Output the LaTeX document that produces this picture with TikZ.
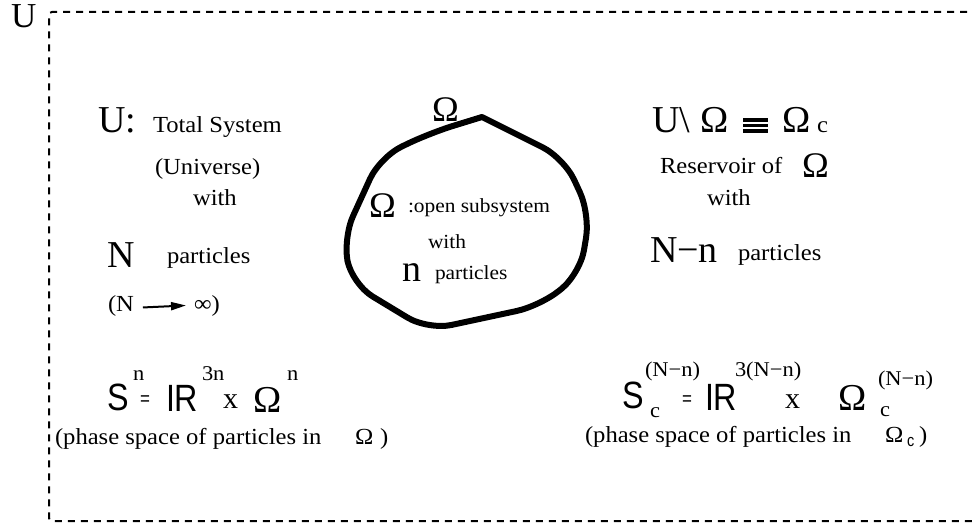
\documentclass[tikz,border=0pt]{standalone}
\usepackage{fontspec}
\usetikzlibrary{arrows.meta}
\newfontfamily\serw[FakeStretch=1.07]{Liberation Serif}
\newfontfamily\serb{Liberation Serif}
\newfontfamily\sanc[FakeStretch=0.85]{Liberation Sans}
\newcommand\ftxt{\serw\fontsize{23}{27}\selectfont}
\newcommand\fsml{\serw\fontsize{20}{23}\selectfont}
\newcommand\fsupx{\serw\fontsize{21}{24}\selectfont}
\newcommand\fbig{\serb\fontsize{38}{44}\selectfont}
\newcommand\fomg{\serb\fontsize{36}{42}\selectfont}
\newcommand\fsans{\sanc\fontsize{38}{44}\selectfont}
\tikzset{
  lbl/.style={inner sep=0pt, outer sep=0pt, anchor=base west},
  txt/.style={lbl, font=\ftxt},
  sml/.style={lbl, font=\fsml},
  supx/.style={lbl, font=\fsupx},
  bigl/.style={lbl, font=\fbig},
  omg/.style={lbl, font=\fomg},
  sans/.style={lbl, font=\fsans},
  eqs/.style={lbl, font=\sanc\fontsize{20}{24}\selectfont},
  times/.style={lbl, font=\serb\fontsize{30}{34}\selectfont},
  frame/.style={line width=2pt, dash pattern=on 7pt off 6pt},
  blob/.style={line width=6pt, line join=round},
  arr/.style={line width=2pt, -{Triangle[length=15pt,width=8pt]}, shorten >=0pt}
}
\begin{document}
\begin{tikzpicture}[x=1pt,y=-1pt]
\useasboundingbox (0,0) rectangle (972,529);
% universe frame
\draw[frame, rounded corners=3pt] (980,12) -- (49,12) -- (49,521) -- (980,521);
\node[bigl, font=\serb\fontsize{35}{40}\selectfont] (utop) at (11,28) {U};

% left column
\node[bigl] (ucol) at (98,133) {U:};
\node[txt] (total) at (153,133) {Total System};
\node[txt] (univ) at (155,175) {(Universe)};
\node[txt] (withl) at (193,206) {with};
\node[bigl] (nbig) at (107,268) {N};
\node[txt] (partl) at (167,264) {particles};
\node[txt] (nlim) at (108,312) {(N};
\node[txt] (inf) at (194,312) {∞)};
\draw[arr] ([xshift=9pt,yshift=-1pt]nlim.east) -- ([xshift=-8pt,yshift=1pt]inf.west |- nlim.east);

% blob
\node[omg] (omtop) at (432,122) {Ω};
\draw[blob] (482,117) [rounded corners=24pt] -- (564,158) -- (590,214) -- (580,274) -- (540,306) -- (428,330) -- (352,284) -- (343,238) -- (380,157) -- (430,133) [sharp corners] -- cycle;
\node[omg] (omin) at (369,218) {Ω};
\node[sml] (open) at (408,213) {:open subsystem};
\node[sml] (withm) at (428,249) {with};
\node[bigl] (nsm) at (402,282) {n};
\node[sml] (partm) at (435,280) {particles};

% right column
\node[bigl] (ur) at (652,133) {U\textbackslash};
\node[bigl] (omr) at (700,133) {Ω};
\node[lbl] (equiv) at (743,133) {\rlap{\rule[0pt]{25pt}{3.6pt}}\rlap{\rule[5.6pt]{25pt}{3.6pt}}\rule[11.2pt]{25pt}{3.6pt}};
\node[bigl] (omc) at (782,133) {Ω};
\node[txt] (csub) at (817,133) {c};
\node[txt] (res) at (660,174) {Reservoir of};
\node[omg] (omres) at (802,178) {Ω};
\node[txt] (withr) at (707,206) {with};
\node[bigl] (nmn) at (650,263) {N−n};
\node[txt] (partr) at (738,261) {particles};

% left formula
\node[sans] (sl) at (107,410) {S};
\node[supx] (snl) at (133,380) {n};
\node[eqs] (eql) at (140,405) {=};
\node[sans] (rl) at (166,411) {IR};
\node[supx] (r3n) at (202,380) {3n};
\node[times] (xl) at (223,408) {x};
\node[bigl] (oml) at (253,412) {Ω};
\node[supx] (onl) at (287,380) {n};
\node[txt] (phl) at (55,444) {(phase space of particles in};
\node[txt] (phlo) at (355,444) {Ω};
\node[txt] (phlp) at (380,444) {)};

% right formula
\node[sans] (sr) at (622,408) {S};
\node[supx] (snr) at (645,377) {(N−n)};
\node[supx] (scr) at (650,417) {c};
\node[eqs] (eqr) at (682,405) {=};
\node[sans] (rr) at (705,410) {IR};
\node[supx] (r3r) at (735,377) {3(N−n)};
\node[times] (xr) at (785,408) {x};
\node[bigl] (omr2) at (838,410) {Ω};
\node[supx] (ocr) at (880,416) {c};
\node[supx] (onr) at (878,385) {(N−n)};
\node[txt] (phr) at (585,442) {(phase space of particles in};
\node[txt] (phro) at (885,442) {Ω};
\node[eqs, font=\sanc\fontsize{17}{20}\selectfont] (phrc) at (907,446) {c};
\node[txt] (phrp) at (919,442) {)};
\end{tikzpicture}
\end{document}
